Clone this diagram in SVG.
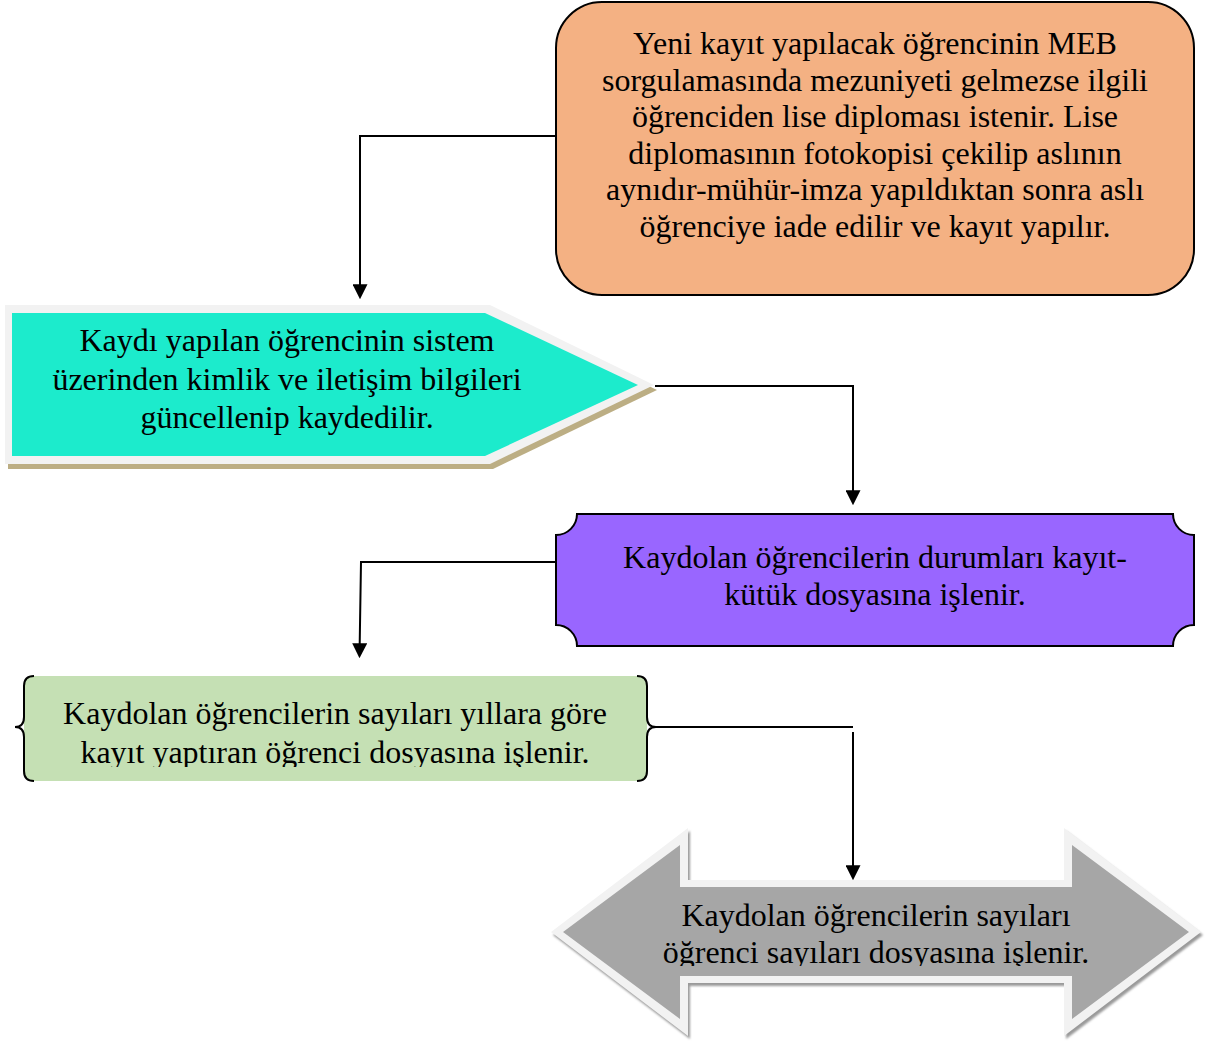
<svg xmlns="http://www.w3.org/2000/svg" width="1211" height="1048" viewBox="0 0 1211 1048">
<style>
  .t{font-family:"Liberation Serif","Times New Roman",serif;font-size:32px;fill:#000;text-anchor:middle}
  .c{fill:none;stroke:#000;stroke-width:2}
</style>
<defs>
  <marker id="ah" viewBox="0 0 10 10" refX="0.5" refY="5" markerUnits="userSpaceOnUse" markerWidth="15" markerHeight="15" orient="auto">
    <path d="M0,0 L10,5 L0,10 Z" fill="#000"/>
  </marker>
  <clipPath id="clipGreen"><rect x="0" y="660" width="700" height="107"/></clipPath>
  <clipPath id="clipGray"><rect x="540" y="880" width="670" height="86"/></clipPath>
  <filter id="soft" x="-5%" y="-5%" width="110%" height="110%"><feGaussianBlur stdDeviation="0.8"/></filter>
</defs>

<rect width="1211" height="1048" fill="#fff"/>

<g id="connectors">
  <path class="c" d="M556,136 H360 V285" marker-end="url(#ah)"/>
  <path class="c" d="M655,386 H853 V491" marker-end="url(#ah)"/>
  <path class="c" d="M556,562 H361 L359.7,644" marker-end="url(#ah)"/>
  <path class="c" d="M656,727 H853"/>
  <path class="c" d="M853,732 V866" marker-end="url(#ah)"/>
</g>

<g id="node-meb">
  <rect x="556" y="2" width="638" height="293" rx="46" ry="46" fill="#F4B183" stroke="#000" stroke-width="2"/>
  <text class="t" x="875" y="54">Yeni kayıt yapılacak öğrencinin MEB</text>
  <text class="t" x="875" y="90.5">sorgulamasında mezuniyeti gelmezse ilgili</text>
  <text class="t" x="875" y="127">öğrenciden lise diploması istenir. Lise</text>
  <text class="t" x="875" y="163.5">diplomasının fotokopisi çekilip aslının</text>
  <text class="t" x="875" y="200">aynıdır-mühür-imza yapıldıktan sonra aslı</text>
  <text class="t" x="875" y="236.5">öğrenciye iade edilir ve kayıt yapılır.</text>
</g>

<g id="node-sistem">
  <polygon points="8,310 493,310 657,390 493,469 8,469" fill="#BCAE84"/>
  <polygon points="5,305 490,305 654,385 490,464 5,464" fill="#F2F2F2"/>
  <polygon points="12,313 485,313 638,385 485,456 12,456" fill="#1CEBCC"/>
  <text class="t" x="287" y="351">Kaydı yapılan öğrencinin sistem</text>
  <text class="t" x="287" y="390">üzerinden kimlik ve iletişim bilgileri</text>
  <text class="t" x="287" y="428">güncellenip kaydedilir.</text>
</g>

<g id="node-kutuk">
  <path d="M577,514 H1173 A21,21 0 0 0 1194,535 V625 A21,21 0 0 0 1173,646 H577 A21,21 0 0 0 556,625 V535 A21,21 0 0 0 577,514 Z" fill="#9966FF" stroke="#000" stroke-width="2"/>
  <text class="t" x="875" y="568">Kaydolan öğrencilerin durumları kayıt-</text>
  <text class="t" x="875" y="605">kütük dosyasına işlenir.</text>
</g>

<g id="node-yillar">
  <path d="M33,676 H637 Q647,676 647,686 V771 Q647,781 637,781 H33 Q24,781 24,771 V686 Q24,676 33,676 Z" fill="#C5E0B4"/>
  <path class="c" d="M34,676 Q24,676 24,686 V717 Q24,727 15,727 Q24,727 24,737 V771 Q24,781 34,781"/>
  <path class="c" d="M637,676 Q647,676 647,686 V717 Q647,727 656,727 Q647,727 647,737 V771 Q647,781 637,781"/>
  <g clip-path="url(#clipGreen)">
    <text class="t" x="335" y="724">Kaydolan öğrencilerin sayıları yıllara göre</text>
    <text class="t" x="335" y="763">kayıt yaptıran öğrenci dosyasına işlenir.</text>
  </g>
</g>

<g id="node-sayilar">
  <polygon points="553,935 690,831 690,883 1066,883 1066,831 1203,935 1066,1039 1066,986 690,986 690,1039" fill="#9A9A9A" filter="url(#soft)"/>
  <polygon points="551,932 688,828 688,880 1064,880 1064,828 1201,932 1064,1036 1064,983 688,983 688,1036" fill="#F2F2F2"/>
  <polygon points="563,932 680,845 680,887 1072,887 1072,845 1189,932 1072,1019 1072,976 680,976 680,1019" fill="#A6A6A6"/>
  <g clip-path="url(#clipGray)">
    <text class="t" x="876" y="926">Kaydolan öğrencilerin sayıları</text>
    <text class="t" x="876" y="963">öğrenci sayıları dosyasına işlenir.</text>
  </g>
</g>
</svg>
